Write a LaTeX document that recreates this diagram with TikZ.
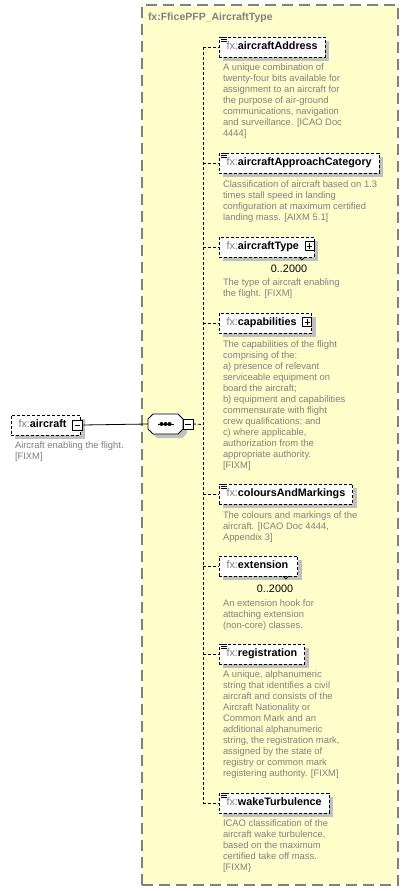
\documentclass[tikz,border=0pt]{standalone}
\usepackage{fontspec}
\setmainfont{Liberation Sans}
\usetikzlibrary{shadows,calc}
\definecolor{cyel}{HTML}{FFFFCC}
\definecolor{cgray}{HTML}{808080}
\definecolor{cshadow}{HTML}{C0C0C0}
\definecolor{cdesc}{HTML}{808080}
\newcommand\namefont{\fontsize{10.8}{12}\selectfont\bfseries}
\newcommand\descfont{\fontsize{9.4}{11}\selectfont}
\newcommand\fxname[1]{{\color{cgray}\mdseries fx:}#1}
\newcommand\seqoct[1]{($(#1.north west)+(5,0)$) -- ($(#1.north east)+(-5,0)$) -- ($(#1.north east)+(0,5)$) -- ($(#1.south east)+(0,-5)$) -- ($(#1.south east)+(-5,0)$) -- ($(#1.south west)+(5,0)$) -- ($(#1.south west)+(0,-5)$) -- ($(#1.north west)+(0,5)$) -- cycle}
\begin{document}
\begin{tikzpicture}[x=1pt,y=-1pt,
  every node/.style={inner sep=0pt, outer sep=0pt},
  elem/.style={draw=black, line width=0.8pt, dash pattern=on 3pt off 2pt, fill=white,
    minimum height=20pt, inner xsep=7.5pt, text height=7.8pt, text depth=2.2pt,
    anchor=west, font=\namefont,
    general shadow={fill=cshadow, shadow xshift=4pt, shadow yshift=-4pt}},
  seqbox/.style={rectangle, minimum width=35pt, minimum height=20pt},
  desc/.style={anchor=north west, align=left, font=\descfont, text=cdesc},
  mult/.style={font=\fontsize{10.8}{12}\selectfont, text=black},
  container/.style={draw=cgray, line width=1.3pt, dash pattern=on 11pt off 6pt, fill=cyel,
    anchor=north west, minimum width=256pt, minimum height=880pt},
  ttl/.style={anchor=west, font=\fontsize{10.5}{12}\selectfont\bfseries, text=cgray},
  conn/.style={black, line width=0.8pt, dash pattern=on 3pt off 2pt},
  solidconn/.style={black, line width=0.8pt},
  plusicon/.pic={\draw[fill=white, line width=0.7pt, solid] (-4.5,-4.5) rectangle (4.5,4.5);
    \draw[line width=0.7pt, solid] (-2.7,0)--(2.7,0) (0,-2.7)--(0,2.7);},
  minusicon/.pic={\draw[fill=white, line width=0.7pt, solid] (-5,-5) rectangle (5,5);
    \draw[line width=0.7pt, solid] (-2.7,0)--(2.7,0);},
  docicon/.pic={\draw[line width=0.7pt, solid] (0,0)--(6,0) (0,2)--(6,2) (0,4)--(6,4);},
  notch/.pic={\draw[line width=0.7pt, solid] (-3,0)--(0,3)--(3,0);}
]
\fill[white] (0,0) rectangle (409,891);
\useasboundingbox (0,0) rectangle (409,891);

% container
\node[container] (ct) at (142,5) {};
\node[ttl] (title) at (148,18) {fx:FficePFP\_AircraftType};

% root element
\node[elem] (ac) at (11,425) {\fxname{aircraft}\kern6.5pt};
\pic at ($(ac.east)+(-3,0)$) {minusicon};
\node[desc] (acd) at (15,442) {Aircraft enabling the flight.\\{}[FIXM]};

% sequence
\node[seqbox] (seq) at (165.5,424) {};
\fill[cshadow, transform canvas={shift={(4,4)}}] \seqoct{seq};
\draw[line width=0.8pt, fill=white] \seqoct{seq};
\draw[line width=0.8pt] ($(seq.center)+(-8,0)$) -- ($(seq.center)+(8,0)$);
\foreach \dx in {-4,0,4} \fill ($(seq.center)+(\dx,0)$) circle (2pt);
\pic at ($(seq.east)+(5,0.5)$) {minusicon};
\coordinate (seqm) at ($(seq.east)+(10,0)$);
\coordinate (acm) at ($(ac.east)+(2,0)$);
\draw[solidconn] (acm) -- (seq.west);

% children
\node[elem] (aa) at (219,47) {\fxname{aircraftAddress}};
\node[elem] (aac) at (219,163) {\fxname{aircraftApproachCategory}};
\node[elem] (at) at (219,247) {\fxname{aircraftType}\kern7.5pt};
\node[elem] (cap) at (219,323) {\fxname{capabilities}\kern7.5pt};
\node[elem] (cam) at (219,494) {\fxname{coloursAndMarkings}};
\node[elem] (ext) at (219,566) {\fxname{extension}\kern2pt};
\node[elem] (reg) at (219,654) {\fxname{registration}};
\node[elem] (wt) at (219,803) {\fxname{wakeTurbulence}};

\foreach \n in {aa,aac,cam,reg,wt} \pic at ($(\n.north west)+(1.5,0)$) {docicon};
\pic at ($(at.east)+(-4.5,-1)$) {plusicon};
\pic at ($(cap.east)+(-4.5,-1)$) {plusicon};
\pic at ($(at.south east)+(-12,0)$) {notch};
\pic at ($(ext.south east)+(-12,0)$) {notch};

\node[mult] (atm) at (289,269) {0..2000};
\node[mult] (extm) at (275,589) {0..2000};

% trunk
\coordinate (tt) at (203,47);
\coordinate (tb) at (203,803);
\coordinate (tm) at (203,424.5);
\draw[conn] (tt) -- (tb);
\draw[conn] (seqm) -- (tm);
\foreach \n in {aa,aac,at,cap,cam,ext,reg,wt} \draw[conn] (tt |- \n.west) -- (\n.west);

% descriptions
\node[desc] (aad) at (223,64) {A unique combination of\\twenty-four bits available for\\assignment to an aircraft for\\the purpose of air-ground\\communications, navigation\\and surveillance. [ICAO Doc\\4444]};
\node[desc] (aacd) at (223,181) {Classification of aircraft based on 1.3\\times stall speed in landing\\configuration at maximum certified\\landing mass. [AIXM 5.1]};
\node[desc] (atd) at (223,279) {The type of aircraft enabling\\the flight. [FIXM]};
\node[desc] (capd) at (223,341) {The capabilities of the flight\\comprising of the:\\a) presence of relevant\\serviceable equipment on\\board the aircraft;\\b) equipment and capabilities\\commensurate with flight\\crew qualifications; and\\c) where applicable,\\authorization from the\\appropriate authority.\\{}[FIXM]};
\node[desc] (camd) at (223,512) {The colours and markings of the\\aircraft. [ICAO Doc 4444,\\Appendix 3]};
\node[desc] (extd) at (223,600) {An extension hook for\\attaching extension\\(non-core) classes.};
\node[desc] (regd) at (223,671) {A unique, alphanumeric\\string that identifies a civil\\aircraft and consists of the\\Aircraft Nationality or\\Common Mark and an\\additional alphanumeric\\string, the registration mark,\\assigned by the state of\\registry or common mark\\registering authority. [FIXM]};
\node[desc] (wtd) at (223,820) {ICAO classification of the\\aircraft wake turbulence,\\based on the maximum\\certified take off mass.\\{}[FIXM\}};
\end{tikzpicture}
\end{document}
